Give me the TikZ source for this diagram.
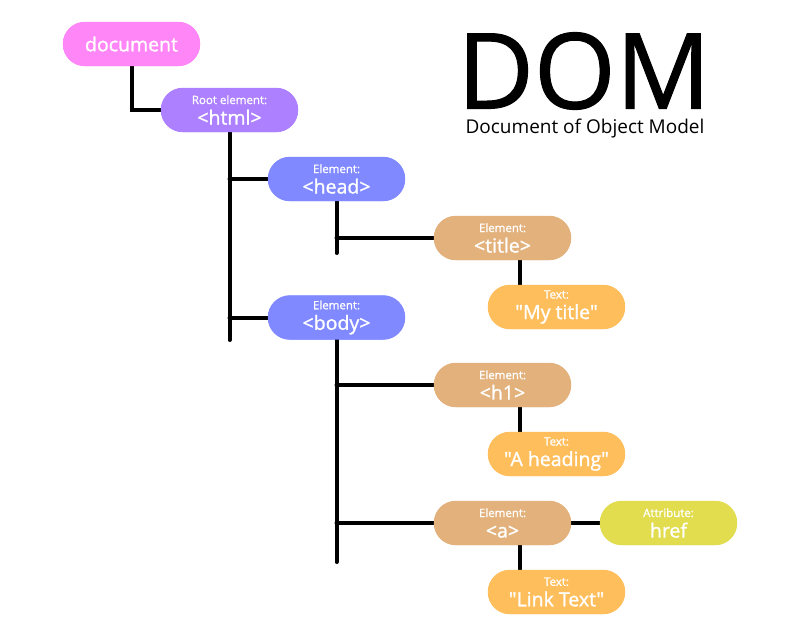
\documentclass[tikz,border=0pt]{standalone}
\usepackage{fontspec}
\setmainfont{Open Sans}
\newfontfamily\pillfont{Open Sans}[FakeBold=1.2]
\newfontfamily\headfont{Open Sans}[FakeBold=1.0]
\usetikzlibrary{calc}
\definecolor{cdoc}{HTML}{FF86F6}
\definecolor{croot}{HTML}{AD80FF}
\definecolor{celem}{HTML}{8089FF}
\definecolor{ctag}{HTML}{E3B27C}
\definecolor{ctext}{HTML}{FFBE5C}
\definecolor{cattr}{HTML}{E2DC4F}
\newcommand\pilltext[2]{{\fontsize{11.5}{12}\selectfont #1}\\[0.5pt]#2}
\newcommand\dq{\char34\relax}
\begin{document}
\begin{tikzpicture}[x=1pt,y=-1pt,
  pill/.style={rounded corners=22pt, minimum width=137pt, minimum height=44pt,
    inner sep=0pt, text=white, align=center,
    font=\pillfont\fontsize{19.5}{20}\selectfont},
  link/.style={line width=4pt, line cap=round}]
\useasboundingbox[fill=white] (0,0) rectangle (800,633);

% title block
\node[anchor=center, font=\headfont\fontsize{105}{105}\selectfont, inner sep=0pt] (dom) at (584,71) {DOM};
\node[anchor=center, font=\fontsize{19}{20}\selectfont, inner sep=0pt] (sub) at (585,128.5) {Document of Object Model};

% tree nodes
\node[pill, fill=cdoc]  (document) at (131.5,44)  {document};
\node[pill, fill=croot] (html)     at (229.5,110) {\pilltext{Root element:}{<html>}};
\node[pill, fill=celem] (head)     at (336.5,179) {\pilltext{Element:}{<head>}};
\node[pill, fill=ctag]  (title)    at (502.5,238) {\pilltext{Element:}{<title>}};
\node[pill, fill=ctext] (mytitle)  at (556.5,307) {\pilltext{Text:}{\dq My title\dq}};
\node[pill, fill=celem] (body)     at (336.5,317.5) {\pilltext{Element:}{<body>}};
\node[pill, fill=ctag]  (h1)       at (502.5,385) {\pilltext{Element:}{<h1>}};
\node[pill, fill=ctext] (heading)  at (556.5,454) {\pilltext{Text:}{\dq A heading\dq}};
\node[pill, fill=ctag]  (a)        at (502.5,523) {\pilltext{Element:}{<a>}};
\node[pill, fill=cattr] (href)     at (668.5,523) {\pilltext{Attribute:}{href}};
\node[pill, fill=ctext] (linktext) at (556.5,592) {\pilltext{Text:}{\dq Link Text\dq}};

% trunk ends
\coordinate (htmlend) at (229.5,340);
\coordinate (headend) at (336.5,253);
\coordinate (bodyend) at (336.5,562);

% connectors
\draw[link] (document.south) |- (html.west);
\draw[link] (html.south) -- (htmlend);
\draw[link] (html.south |- head.west) -- (head.west);
\draw[link] (html.south |- body.west) -- (body.west);
\draw[link] (head.south) -- (headend);
\draw[link] (head.south |- title.west) -- (title.west);
\draw[link] ([xshift=17.5pt]title.south) -- ([xshift=17.5pt]title.south |- mytitle.north);
\draw[link] (body.south) -- (bodyend);
\draw[link] (body.south |- h1.west) -- (h1.west);
\draw[link] (body.south |- a.west) -- (a.west);
\draw[link] ([xshift=17.5pt]h1.south) -- ([xshift=17.5pt]h1.south |- heading.north);
\draw[link] ([xshift=17.5pt]a.south) -- ([xshift=17.5pt]a.south |- linktext.north);
\draw[link] (a.east) -- (href.west);

% pills again on top of the connector ends
\foreach \n/\c in {document/cdoc,html/croot,head/celem,title/ctag,mytitle/ctext,body/celem,h1/ctag,heading/ctext,a/ctag,href/cattr,linktext/ctext}
  \fill[\c, rounded corners=22pt] (\n.south west) rectangle (\n.north east);
\node[pill] at (document) {document};
\node[pill] at (html)     {\pilltext{Root element:}{<html>}};
\node[pill] at (head)     {\pilltext{Element:}{<head>}};
\node[pill] at (title)    {\pilltext{Element:}{<title>}};
\node[pill] at (mytitle)  {\pilltext{Text:}{\dq My title\dq}};
\node[pill] at (body)     {\pilltext{Element:}{<body>}};
\node[pill] at (h1)       {\pilltext{Element:}{<h1>}};
\node[pill] at (heading)  {\pilltext{Text:}{\dq A heading\dq}};
\node[pill] at (a)        {\pilltext{Element:}{<a>}};
\node[pill] at (href)     {\pilltext{Attribute:}{href}};
\node[pill] at (linktext) {\pilltext{Text:}{\dq Link Text\dq}};
\end{tikzpicture}
\end{document}
